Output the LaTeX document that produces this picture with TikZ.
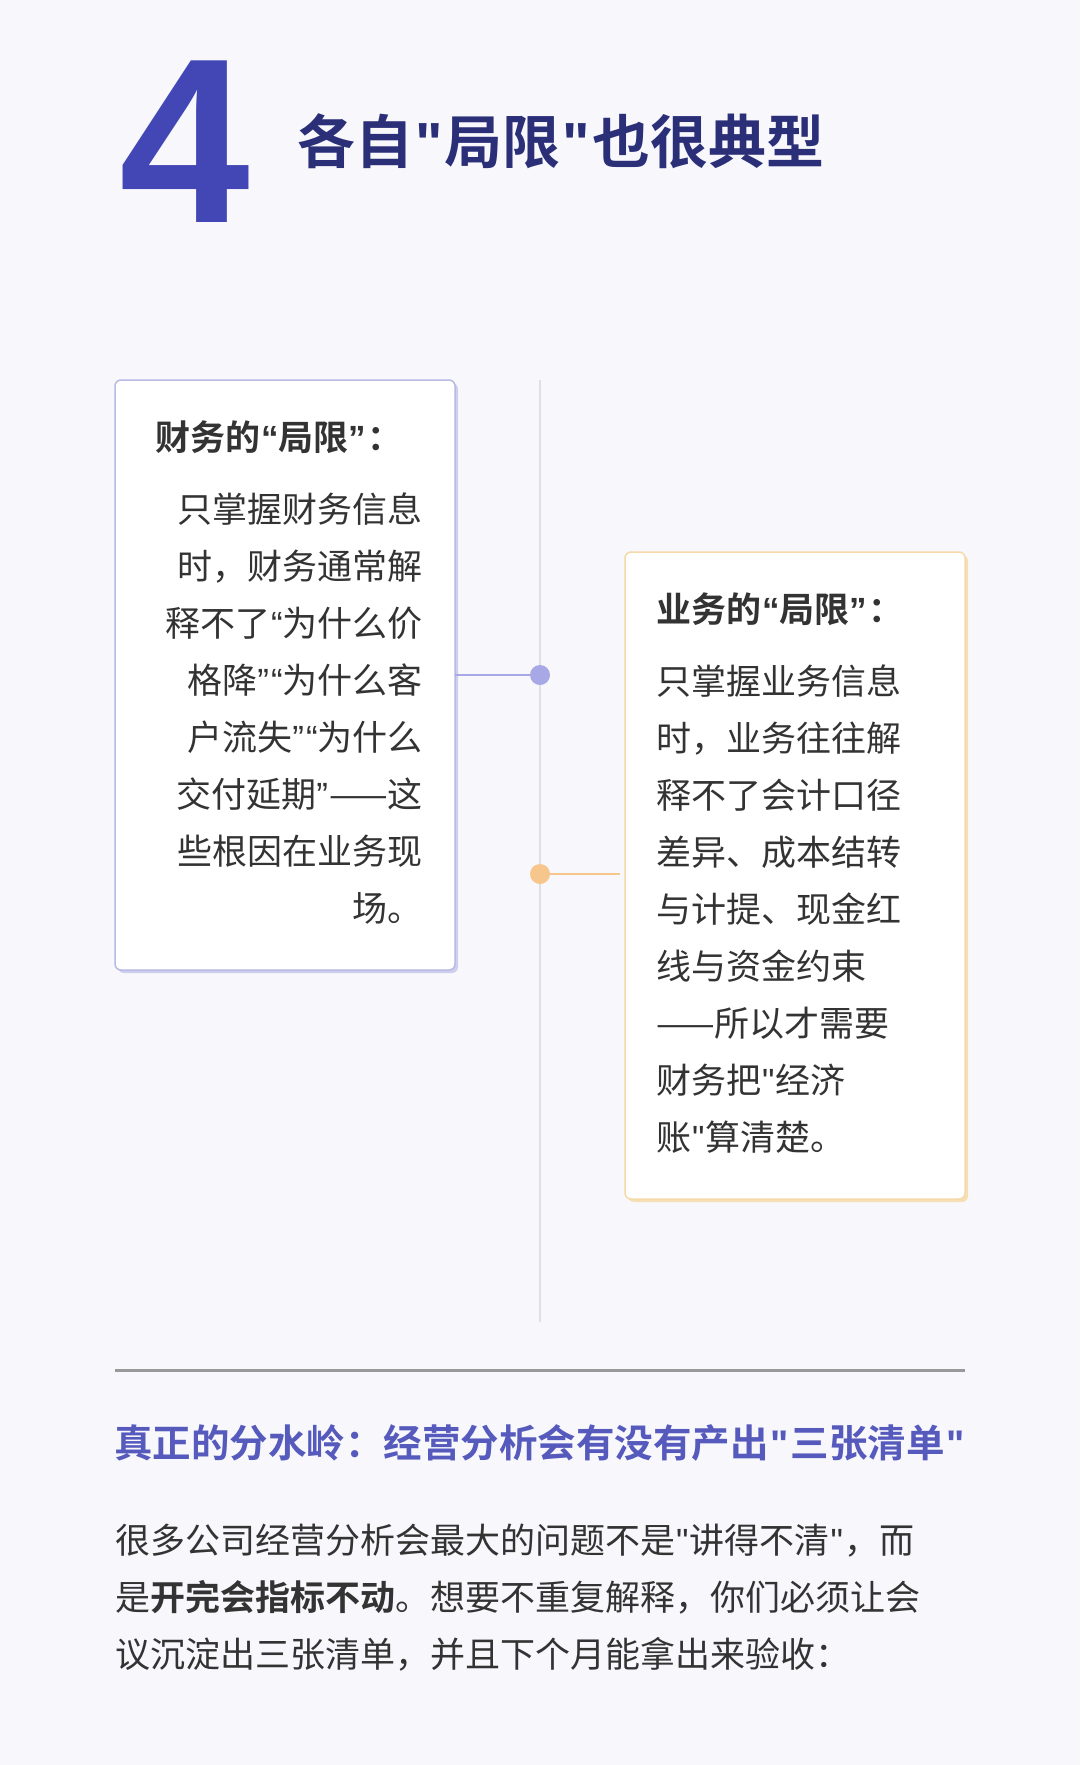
\documentclass[tikz,border=0pt]{standalone}
\usepackage{fontspec}
\setmainfont{Noto Sans CJK SC}
\newfontfamily\cjkb{Noto Sans CJK SC Bold}
\newfontfamily\lat[Ligatures=NoCommon]{Liberation Sans}
\newfontfamily\latb[Ligatures=NoCommon]{Liberation Sans Bold}
\newcommand\qo{{\lat\kern1pt“}}
\newcommand\qc{{\lat ”\kern1pt}}
\newcommand\qs{{\lat\kern1pt\symbol{34}\kern1pt}}
\newcommand\qbo{{\latb\kern1pt“}}
\newcommand\qbc{{\latb ”\kern1pt}}
\newcommand\qbs{{\latb\kern2pt\symbol{34}\kern2pt}}
\definecolor{bg}{HTML}{F8F8FC}
\definecolor{indig}{HTML}{4347B5}
\definecolor{navy}{HTML}{2B2F78}
\definecolor{pur}{HTML}{B9B9E6}
\definecolor{purdot}{HTML}{A8A8E6}
\definecolor{org}{HTML}{F5D9A8}
\definecolor{orgdot}{HTML}{F6C68C}
\definecolor{txt}{HTML}{333333}
\tikzset{
 card/.style={rounded corners=6pt,fill=white,line width=1.5pt},
 body/.style={font=\fontsize{35}{57}\selectfont,text=txt,inner sep=0pt},
 ctitle/.style={font=\cjkb\fontsize{35}{40}\selectfont,text=txt,inner sep=0pt,anchor=west},
}
\begin{document}
\begin{tikzpicture}[x=1pt,y=-1pt]
\fill[bg] (0,0) rectangle (1080,1765);
\useasboundingbox (0,0) rectangle (1080,1765);
\node[font=\fontspec{Liberation Sans}\bfseries\fontsize{235}{235}\selectfont,text=indig,inner sep=0pt] (num) at (185,142) {4};
\node[font=\cjkb\fontsize{58}{60}\selectfont,text=navy,anchor=west,inner sep=0pt] (ttl) at (297,141) {各自\qbs 局限\qbs 也很典型};
\draw[line width=2pt,black!12] (540,380) coordinate (vt) -- (540,1322) coordinate (vb);
% left card
\fill[pur!70,rounded corners=6pt] (118,383) rectangle (458,973);
\draw[card,draw=pur] (115,380) rectangle (455,970);
\node[ctitle] (lt) at (155,437) {财务的\qbo 局限\qbc ：};
\node[body,align=right,anchor=north east] (lb) at (423,493) {只掌握财务信息\\时，财务通常解\\释不了\qo 为什么价\\格降\qc\qo 为什么客\\户流失\qc\qo 为什么\\交付延期\qc ——这\\些根因在业务现\\场。};
\node[circle,fill=purdot,minimum size=20pt,inner sep=0pt] (ld) at (540,675) {};
\coordinate (le) at (455,675);
\draw[line width=2.5pt,purdot] (le) -- (ld);
% right card
\fill[org!85,rounded corners=6pt] (628,555) rectangle (968,1202);
\draw[card,draw=org] (625,552) rectangle (965,1199);
\node[ctitle] (rt) at (656,609) {业务的\qbo 局限\qbc ：};
\node[body,align=left,anchor=north west] (rb) at (656,665) {只掌握业务信息\\时，业务往往解\\释不了会计口径\\差异、成本结转\\与计提、现金红\\线与资金约束\\——所以才需要\\财务把\qs 经济\\账\qs 算清楚。};
\node[circle,fill=orgdot,minimum size=20pt,inner sep=0pt] (rd) at (540,874) {};
\coordinate (re) at (620,874);
\draw[line width=2.5pt,orgdot] (rd) -- (re);
% bottom
\draw[line width=3pt,black!40] (115,1370) coordinate (ha) -- (965,1370) coordinate (hb);
\node[font=\cjkb\fontsize{38.5}{42}\selectfont,text=indig!90,anchor=west,inner sep=0pt] (sub) at (114,1443) {真正的分水岭：经营分析会有没有产出\qbs 三张清单\qbs};
\node[body,align=left,anchor=north west] (para) at (115,1524) {很多公司经营分析会最大的问题不是\qs 讲得不清\qs ，而\\是{\cjkb 开完会指标不动}。想要不重复解释，你们必须让会\\议沉淀出三张清单，并且下个月能拿出来验收：};
\end{tikzpicture}
\end{document}
